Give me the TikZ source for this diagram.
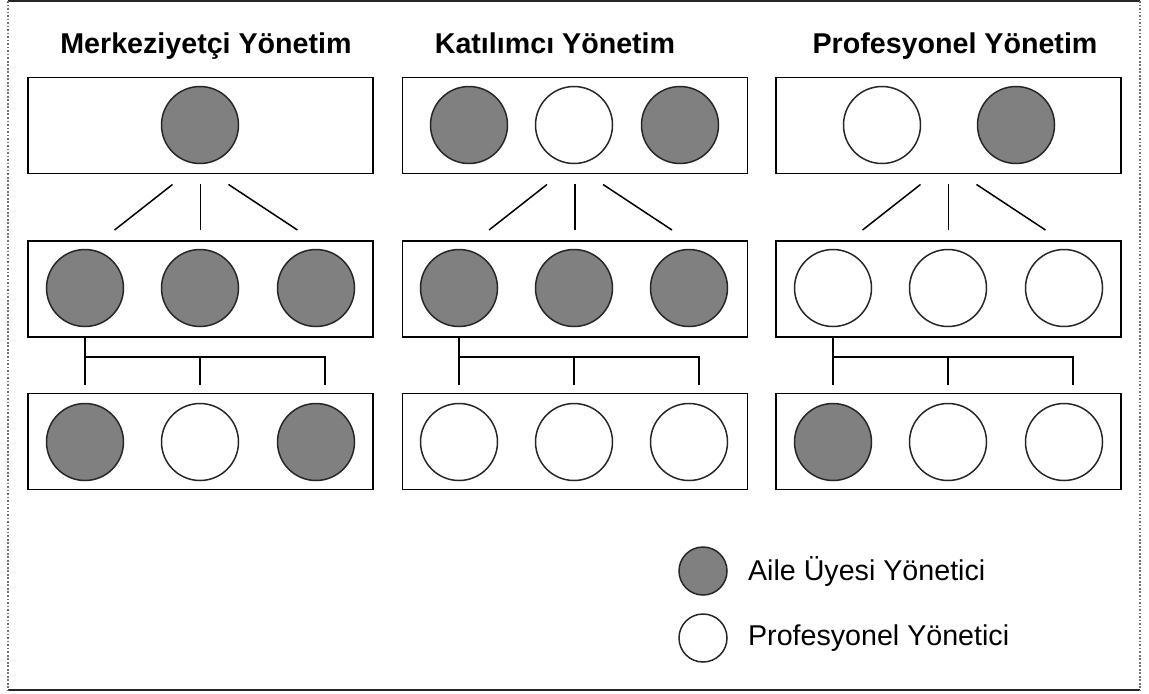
\documentclass[tikz,border=0pt]{standalone}
\usepackage{fontspec}
\setmainfont{Liberation Sans}
\usetikzlibrary{positioning,calc}

\begin{document}
\begin{tikzpicture}[x=0.2mm, y=-0.2mm, font=\fontsize{16.3}{19.5}\selectfont,
  row/.style={draw, line width=1.1pt, minimum width=69mm, minimum height=19.2mm, inner sep=0pt},
  mgr/.style={circle, draw=black!85, line width=0.85pt, minimum size=15.4mm, inner sep=0pt},
  fam/.style={mgr, fill=black!50},
  pro/.style={mgr, fill=white},
  lnk/.style={line width=0.85pt},
  title/.style={font=\fontsize{16.3}{19.5}\selectfont\bfseries, anchor=base}]
\useasboundingbox (0,0) rectangle (1149,693);
% frame
\draw[line width=1.1pt, black!85] (8,1) -- (1140,1) (8,690) -- (1140,690);
\draw[densely dotted, line width=1pt, black!55] (8,1) -- (8,690) (1140,1) -- (1140,690);
% titles
\node[title] (m-title) at (206,53) {Merkeziyetçi Yönetim};
\node[title] (k-title) at (555,53) {Katılımcı Yönetim};
\node[title] (p-title) at (955,53) {Profesyonel Yönetim};
% rows
\foreach \p/\x in {m/200.5, k/575, p/948.5} {
  \node[row] (\p-top) at (\x,125.5) {};
  \node[row] (\p-mid) at (\x,289) {};
  \node[row] (\p-bot) at (\x,441.5) {};
}
% managers
\node[fam] (m-t1) at (200,125) {};
\foreach \x/\s [count=\i] in {85/fam, 200/fam, 316/fam} \node[\s] (m-m\i) at (\x,288) {};
\foreach \x/\s [count=\i] in {85/fam, 200/pro, 316/fam} \node[\s] (m-b\i) at (\x,442) {};
\foreach \x/\s [count=\i] in {469/fam, 574/pro, 680/fam} \node[\s] (k-t\i) at (\x,125) {};
\foreach \x/\s [count=\i] in {459/fam, 574/fam, 689/fam} \node[\s] (k-m\i) at (\x,288) {};
\foreach \x/\s [count=\i] in {459/pro, 574/pro, 689/pro} \node[\s] (k-b\i) at (\x,442) {};
\foreach \x/\s [count=\i] in {882/pro, 1016/fam} \node[\s] (p-t\i) at (\x,125) {};
\foreach \x/\s [count=\i] in {833/pro, 948/pro, 1064/pro} \node[\s] (p-m\i) at (\x,288) {};
\foreach \x/\s [count=\i] in {833/fam, 948/pro, 1064/pro} \node[\s] (p-b\i) at (\x,442) {};
% links between rows
\foreach \p in {m,k,p} {
  \foreach \a/\b in {-28/-86, 0/0, 28/97}
    \draw[lnk] ($(\p-top.south)+(\a,10)$) -- ($(\p-mid.north)+(\b,-10)$);
  \draw[lnk] (\p-m1 |- \p-mid.south) -- ++(0,47);
  \draw[lnk] ($(\p-m1 |- \p-mid.south)+(0,19)$) -- ++(240,0) -- ++(0,28);
  \draw[lnk] ($(\p-m2 |- \p-mid.south)+(0,19)$) -- ++(0,28);
}
% legend
\node[fam, minimum size=9.6mm] (key-fam) at (703,571) {};
\node[pro, minimum size=9.6mm] (key-pro) at (703,638) {};
\node[right=4mm of key-fam, inner sep=0pt] (key-fam-txt) {Aile Üyesi Yönetici};
\node[right=4mm of key-pro, inner sep=0pt] (key-pro-txt) {Profesyonel Yönetici};
\end{tikzpicture}
\end{document}
